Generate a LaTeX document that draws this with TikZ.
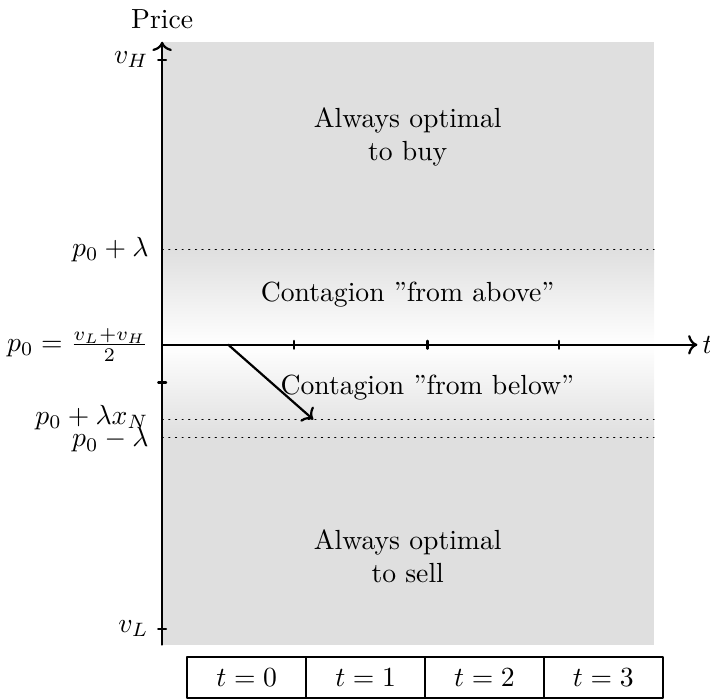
\documentclass[tikz,border=0pt]{standalone}
\usepackage{amsmath}
\usetikzlibrary{arrows.meta}

\begin{document}
\begin{tikzpicture}[line cap=round, line join=round]
    \useasboundingbox (-2.06,-4.50) rectangle (6.96,4.38);

    % Grey background of the price region
    \fill[gray!25] (0,-3.81) rectangle (6.25,3.85);
    % Fading bands around p_0
    \shade[top color=gray!25, bottom color=white] (0,0) rectangle (6.25,1.21);
    \shade[top color=white, bottom color=gray!25] (0,-1.18) rectangle (6.25,0);

    % Dotted thresholds
    \draw[dotted] (0,1.21) -- (6.25,1.21);
    \draw[dotted] (0,-0.95) -- (6.25,-0.95);
    \draw[dotted] (0,-1.18) -- (6.25,-1.18);

    % Axes
    \draw[->, thick] (0,-3.81) -- (0,3.85);
    \node (price) at (0,4.13) {Price};
    \draw[->, thick] (0,0) -- (6.80,0) node[right, inner sep=1.5pt] (tlab) {$t$};

    % Ticks
    \foreach \x in {1.68,3.37,5.04}
        \draw[thick] (\x,-0.05) -- (\x,0.05);
    \foreach \y in {3.62,-0.48,-3.61}
        \draw[thick] (-0.05,\y) -- (0.05,\y);

    % Labels on the price axis
    \node[left] (vH) at (-0.05,3.62) {$v_H$};
    \node[left] (pup) at (-0.05,1.21) {$p_0+\lambda$};
    \node[left] (pzero) at (-0.05,0) {$p_0=\frac{v_L+v_H}{2}$};
    \node[left] (pxn) at (-0.05,-0.92) {$p_0+\lambda x_N$};
    \node[left] (pdown) at (-0.05,-1.21) {$p_0-\lambda$};
    \node[left] (vL) at (-0.05,-3.61) {$v_L$};

    % Region texts
    \node[align=center] (buy) at (3.12,2.64) {Always optimal\\to buy};
    \node (above) at (3.12,0.64) {Contagion ''from above''};
    \node (below) at (3.37,-0.55) {Contagion ''from below''};
    \node[align=center] (sell) at (3.12,-2.69) {Always optimal\\to sell};

    % Path of the price
    \coordinate (start) at (0.84,0);
    \coordinate (stop) at (1.92,-0.95);
    \draw[->, thick] (start) -- (stop);

    % Time table
    \foreach \i in {0,...,3}
        \node[draw, thick, minimum width=1.51cm, minimum height=0.52cm]
            (cell\i) at ({0.32+1.51*(\i+0.5)},-4.23) {$t=\i$};
\end{tikzpicture}
\end{document}
